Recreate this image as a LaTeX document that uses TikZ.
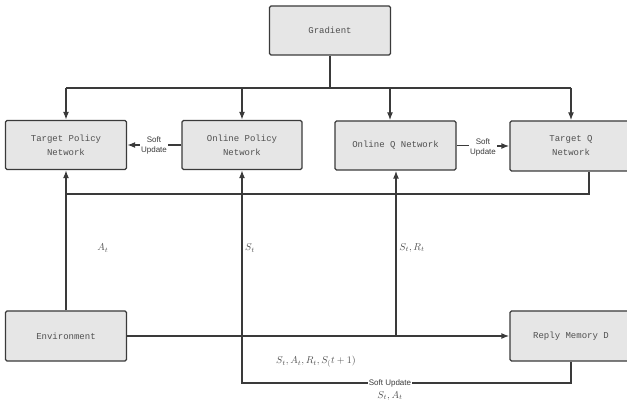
\documentclass[tikz,border=0pt]{standalone}
\usepackage{fontspec}
\setmainfont{Liberation Serif}
\setsansfont{Liberation Sans}
\setmonofont{Liberation Mono}
\usetikzlibrary{positioning,arrows.meta}
\definecolor{boxFill}{HTML}{E6E6E6}
\definecolor{lineGray}{HTML}{3A3A3A}
\definecolor{textGray}{HTML}{505050}
\begin{document}
\begin{tikzpicture}[
    x=1pt, y=-1pt,
    netBox/.style={draw=lineGray, fill=boxFill, line width=1.4pt, rounded corners=1.5pt,
        minimum width=121pt, minimum height=49pt, align=center,
        font=\ttfamily\fontsize{9}{14}\selectfont, text=textGray},
    softLabel/.style={font=\sffamily\fontsize{8}{10}\selectfont, align=center, inner sep=1pt, text=lineGray},
    mathLabel/.style={font=\fontsize{10}{12}\selectfont, text=textGray, inner sep=1pt},
    link/.style={draw=lineGray, line width=1.4pt},
    every node/.style={
        text centered,
        }
        ]
    \useasboundingbox (0,0) rectangle (627,406);

    \node[netBox] (gradient) at (330, 30.5) {Gradient};

    \node[netBox] (targetPolicy) at (66, 145) {Target Policy\\Network};
    \node[netBox, minimum width=120pt] (onlinePolicy) at (242, 145) {Online Policy\\Network};
    \node[netBox] (onlineQ) at (395.5, 145.5) {Online Q Network};
    \node[netBox, minimum width=122pt, minimum height=50pt] (targetQ) at (571, 146) {Target Q\\Network};

    \node[netBox, minimum height=50pt] (environment) at (66, 336) {Environment};
    \node[netBox, minimum width=122pt, minimum height=50pt] (memory) at (571, 336) {Reply Memory D};

    \coordinate (gradJoint) at (330, 88);
    \coordinate (backJoint) at (66, 194);
    \coordinate (qJoint) at (396, 336);
    \coordinate (loopCorner) at (242, 383);

    % gradient to the four networks
    \draw[link] (gradient.south) -- (gradJoint);
    \draw[link] (targetPolicy.north |- gradJoint) -- (targetQ.north |- gradJoint);
    \draw[link, ->, >={Latex[length=8pt, width=6pt]}] (targetPolicy.north |- gradJoint) -- (targetPolicy.north);
    \draw[link, ->, >={Latex[length=8pt, width=6pt]}] (onlinePolicy.north |- gradJoint) -- (onlinePolicy.north);
    \draw[link, ->, >={Latex[length=8pt, width=6pt]}] ([xshift=-5.5pt]onlineQ.north |- gradJoint) -- ([xshift=-5.5pt]onlineQ.north);
    \draw[link, ->, >={Latex[length=8pt, width=6pt]}] (targetQ.north |- gradJoint) -- (targetQ.north);

    % soft updates between online and target
    \node[softLabel] (softLeft) at (154, 145) {Soft\\Update};
    \node[softLabel] (softRight) at (483, 147) {Soft\\Update};
    \draw[link] (onlinePolicy.west) -- (softLeft.east);
    \draw[link, ->, >={Latex[length=8pt, width=6pt]}] (softLeft.west) -- (targetPolicy.east);
    \draw[link] (onlineQ.east) -- (onlineQ.east -| softRight.west);
    \draw[link, ->, >={Latex[length=8pt, width=6pt]}] (softRight.east |- targetQ.west) -- (targetQ.west);

    \draw[link] ([xshift=18pt]targetQ.south) |- (backJoint);
    \draw[link, ->, >={Latex[length=8pt, width=6pt]}] (environment.north) -- (targetPolicy.south);
    \draw[link, ->, >={Latex[length=8pt, width=6pt]}] (environment.east) -- (memory.west);
    \draw[link, ->, >={Latex[length=8pt, width=6pt]}] (qJoint) -- (qJoint |- onlineQ.south);
    \draw[link, ->, >={Latex[length=8pt, width=6pt]}] (memory.south) |- (loopCorner) -- (onlinePolicy.south);

    \node[mathLabel] (actionLabel) at (103, 248) {$A_t$};
    \node[mathLabel] (stateLabel) at (250, 248) {$S_t$};
    \node[mathLabel] (rewardLabel) at (412, 248) {$S_t, R_t$};
    \node[mathLabel] (tupleLabel) at (316, 362) {$S_t, A_t, R_t, S_(t+1)$};
    \node[softLabel, fill=white, inner sep=0.5pt] (softBottom) at (390, 383) {Soft Update};
    \node[mathLabel] (sampleLabel) at (390, 396) {$S_t, A_t$};
\end{tikzpicture}
\end{document}
